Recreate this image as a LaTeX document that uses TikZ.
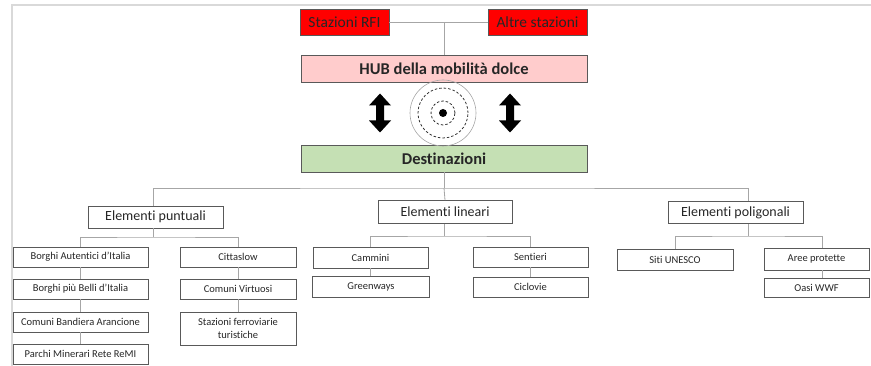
\documentclass[tikz,border=0pt]{standalone}
\usepackage{fontspec}
\setmainfont{Carlito}[Ligatures=CommonOff]
\usetikzlibrary{calc}
\definecolor{rfired}{HTML}{FF0000}
\definecolor{hubpink}{HTML}{FFCCCC}
\definecolor{destgreen}{HTML}{C5E0B4}
\definecolor{conngray}{HTML}{A6A6A6}
\definecolor{framegray}{HTML}{D9D9D9}
\definecolor{bordgray}{HTML}{595959}
\begin{document}
\begin{tikzpicture}[x=1pt,y=-1pt,
  box/.style={draw=bordgray, line width=0.8pt, inner sep=0pt, align=center, text=black!85},
  topbox/.style={box, font=\fontsize{15.5}{17}\selectfont},
  boldbox/.style={box, font=\fontsize{16.5}{18}\selectfont\bfseries, minimum width=286pt, minimum height=27pt},
  grpbox/.style={box, font=\fontsize{14}{16}\selectfont, minimum width=135pt},
  leaf/.style={box, font=\fontsize{10.5}{12.5}\selectfont, minimum height=20pt},
  connline/.style={draw=conngray, line width=0.8pt},
  hubring/.style={draw=black!80, dashed, line width=0.8pt, dash pattern=on 2.5pt off 2pt}
]
\useasboundingbox (0,0) rectangle (871,366);
\draw[framegray, line width=1.2pt] (871,5) -- (12,5) -- (12,366);

% top
\node[topbox, fill=rfired, minimum width=89pt, minimum height=26pt] (rfi) at (344.5,22) {Stazioni RFI};
\node[topbox, fill=rfired, minimum width=99pt, minimum height=26pt] (altre) at (537.5,22) {Altre stazioni};
\node[boldbox, fill=hubpink] (hub) at (444,68.5) {HUB della mobilità dolce};
\node[boldbox, fill=destgreen] (dest) at (444,158.5) {Destinazioni};
\draw[connline] (rfi.east) -- (altre.west);
\draw[connline] (hub.north) -- (hub.north |- rfi.east);

% hub symbol
\coordinate (ctr) at (443,113);
\draw[gray!70, line width=0.6pt] (ctr) circle[radius=33pt];
\draw[hubring] (ctr) circle[radius=25pt];
\draw[hubring] (ctr) circle[radius=12pt];
\fill[black] (ctr) circle[radius=4pt];

% double arrows
\foreach \ax in {380,510}{
  \fill[black] (\ax,93.5) -- ++(11,12) -- ++(-7,0) -- ++(0,15) -- ++(7,0) -- ++(-11,12)
    -- ++(-11,-12) -- ++(7,0) -- ++(0,-15) -- ++(-7,0) -- cycle;
}

% groups
\node[grpbox, minimum height=22pt] (punt) at (155.5,217) {Elementi puntuali};
\node[grpbox, minimum width=134pt, minimum height=23pt] (lin) at (445,212) {Elementi lineari};
\node[grpbox, minimum height=22pt] (pol) at (735.5,212.5) {Elementi poligonali};
\coordinate (bus) at (444,188);
\draw[connline] (dest.south) -- (bus);
\draw[connline] ([xshift=-2.5pt]punt.north) |- (bus) -| ([xshift=12.5pt]pol.north);
\draw[connline] (bus) -- (lin.north);

% leaves: puntuali
\node[leaf, minimum width=135pt] (ba) at (80.5,257) {Borghi Autentici d’Italia};
\node[leaf, minimum width=135pt] (bb) at (80.5,289) {Borghi più Belli d’Italia};
\node[leaf, minimum width=135pt] (cb) at (80.5,322) {Comuni Bandiera Arancione};
\node[leaf, minimum width=135pt] (pm) at (80.5,354) {Parchi Minerari Rete ReMI};
\node[leaf, minimum width=116pt] (cs) at (238,257) {Cittaslow};
\node[leaf, minimum width=116pt] (cv) at (238,289) {Comuni Virtuosi};
\node[leaf, minimum width=116pt, minimum height=33pt] (sf) at (238,328.5) {Stazioni ferroviarie\\turistiche};
% leaves: lineari
\node[leaf, minimum width=115pt, minimum height=21pt] (cam) at (370.5,257.5) {Cammini};
\node[leaf, minimum width=117pt, minimum height=21pt] (gw) at (371,286.5) {Greenways};
\node[leaf, minimum width=115pt] (sen) at (530.5,257) {Sentieri};
\node[leaf, minimum width=115pt] (cic) at (530.5,287) {Ciclovie};
% leaves: poligonali
\node[leaf, minimum width=116pt, minimum height=21pt] (siti) at (675,259.5) {Siti UNESCO};
\node[leaf, minimum width=105pt, minimum height=22pt] (aree) at (816.5,259) {Aree protette};
\node[leaf, minimum width=105pt, minimum height=19pt] (oasi) at (816.5,287.5) {Oasi WWF};

% sub-buses
\coordinate (pbus) at (153,237);
\coordinate (lbus) at (444,236);
\coordinate (obus) at (748,236);
\draw[connline] (punt.south -| pbus) -- (pbus);
\draw[connline] (ba.north) |- (pbus) -| (cs.north);
\draw[connline] (lin.south -| lbus) -- (lbus);
\draw[connline] (cam.north) |- (lbus) -| (sen.north);
\draw[connline] (pol.south -| obus) -- (obus);
\draw[connline] (siti.north) |- (obus) -| ([xshift=5.5pt]aree.north);

% chains
\draw[connline] (ba.south) -- (bb.north);
\draw[connline] (bb.south) -- (cb.north);
\draw[connline] (cb.south) -- (pm.north);
\draw[connline] (cs.south) -- (cv.north);
\draw[connline] (cv.south) -- (sf.north);
\draw[connline] (cam.south) -- (cam.south |- gw.north);
\draw[connline] (sen.south) -- (cic.north);
\draw[connline] ([xshift=5.5pt]aree.south) -- ([xshift=5.5pt]oasi.north);
\end{tikzpicture}
\end{document}
